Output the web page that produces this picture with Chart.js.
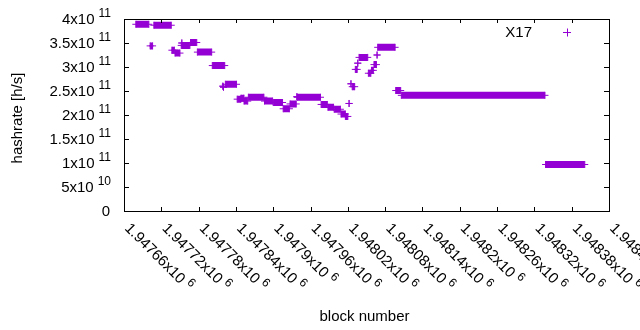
<!DOCTYPE html>
<html>
<head>
<meta charset="utf-8">
<script src="https://cdn.jsdelivr.net/npm/chart.js@4.4.1/dist/chart.umd.min.js"></script>
<style>
  html, body { margin: 0; padding: 0; background: #fff; }
  canvas { display: block; }
</style>
</head>
<body>
<canvas id="hashChart" width="640" height="330"></canvas>
<script>
// hashrate per block, as runs of blocks with the same value
const segStart = [1947679, 1947702, 1947708, 1947737, 1947742, 1947752, 1947753, 1947767, 1947778, 1947802,
  1947819, 1947820, 1947823, 1947842, 1947848, 1947853, 1947860, 1947886, 1947900, 1947916,
  1947927, 1947938, 1947939, 1947977, 1947988, 1947998, 1948009, 1948016, 1948022, 1948025,
  1948027, 1948032, 1948036, 1948038, 1948053, 1948058, 1948062, 1948067, 1948068, 1948097,
  1948106, 1948338];
const segEnd = [1947700, 1947706, 1947736, 1947741, 1947750, 1947766, 1947753, 1947777, 1947801, 1947822,
  1947819, 1947820, 1947841, 1947848, 1947853, 1947859, 1947885, 1947899, 1947915, 1947926,
  1947937, 1947938, 1947976, 1947987, 1947997, 1948008, 1948016, 1948020, 1948022, 1948025,
  1948031, 1948035, 1948036, 1948052, 1948057, 1948061, 1948066, 1948067, 1948096, 1948105,
  1948337, 1948401];
const segHash = [3.89e11, 3.44e11, 3.87e11, 3.35e11, 3.29e11, 3.45e11, 3.50e11, 3.51e11, 3.31e11, 3.03e11,
  2.60e11, 2.58e11, 2.64e11, 2.33e11, 2.35e11, 2.29e11, 2.37e11, 2.29e11, 2.26e11, 2.13e11,
  2.23e11, 2.38e11, 2.37e11, 2.22e11, 2.16e11, 2.12e11, 2.02e11, 1.97e11, 2.24e11, 2.65e11,
  2.59e11, 2.95e11, 3.08e11, 3.20e11, 2.87e11, 2.93e11, 3.05e11, 3.25e11, 3.41e11, 2.51e11,
  2.41e11, 0.969e11];

const yTicks = [0, 5e10, 1e11, 1.5e11, 2e11, 2.5e11, 3e11, 3.5e11, 4e11];
const yTickText = ["0", "5x10", "1x10", "1.5x10", "2x10", "2.5x10", "3x10", "3.5x10", "4x10"];
const yTickExp = ["", "10", "11", "11", "11", "11", "11", "11", "11"];

const xTicks = [1947660, 1947720, 1947780, 1947840, 1947900, 1947960, 1948020,
  1948080, 1948140, 1948200, 1948260, 1948320, 1948380, 1948440];
const xTickText = ["1.94766x10", "1.94772x10", "1.94778x10", "1.94784x10", "1.9479x10", "1.94796x10", "1.94802x10",
  "1.94808x10", "1.94814x10", "1.9482x10", "1.94826x10", "1.94832x10", "1.94838x10", "1.94844x10"];
const xTickExp = "6";

const seriesName = "X17";
const purple = "#9400d3";
const FONT = '"Liberation Sans", Arial, sans-serif';

// each run becomes a short thick line, with a gap after it
const points = [];
segStart.forEach((s, i) => {
  points.push({ x: s, y: segHash[i] });
  points.push({ x: segEnd[i], y: segHash[i] });
  points.push({ x: segEnd[i], y: null });
});

const gnuplotFrame = {
  id: "gnuplotFrame",
  afterDraw(chart) {
    const { ctx, chartArea: a, scales } = chart;
    const xs = scales.x, ys = scales.y;
    ctx.save();
    ctx.strokeStyle = "#000";
    ctx.lineWidth = 1;
    ctx.strokeRect(a.left + 0.5, a.top + 0.5, a.right - a.left, a.bottom - a.top);

    ctx.beginPath();
    yTicks.forEach((v) => {
      const py = Math.round(ys.getPixelForValue(v)) + 0.5;
      ctx.moveTo(a.left, py); ctx.lineTo(a.left + 5, py);
      ctx.moveTo(a.right, py); ctx.lineTo(a.right - 5, py);
    });
    xTicks.forEach((v) => {
      const px = Math.round(xs.getPixelForValue(v)) + 0.5;
      ctx.moveTo(px, a.bottom); ctx.lineTo(px, a.bottom - 4);
      ctx.moveTo(px, a.top); ctx.lineTo(px, a.top + 4);
    });
    ctx.stroke();

    ctx.fillStyle = "#000";
    // y tick labels with superscript exponent
    yTicks.forEach((v, i) => {
      const py = ys.getPixelForValue(v);
      const right = 111;
      ctx.textBaseline = "alphabetic";
      ctx.textAlign = "right";
      if (yTickExp[i]) {
        ctx.font = "12px " + FONT;
        const w = ctx.measureText(yTickExp[i]).width;
        ctx.fillText(yTickExp[i], right, py - 2);
        ctx.font = "15px " + FONT;
        ctx.fillText(yTickText[i], right - w - 4, py + 5);
      } else {
        ctx.font = "15px " + FONT;
        ctx.fillText(yTickText[i], right - 1, py + 5);
      }
    });

    // x tick labels, rotated by -45 like gnuplot
    xTicks.forEach((v, i) => {
      const px = xs.getPixelForValue(v);
      ctx.save();
      ctx.translate(px + 3, a.bottom + 15);
      ctx.rotate(Math.PI / 4);
      ctx.textAlign = "left";
      ctx.textBaseline = "middle";
      ctx.font = "15px " + FONT;
      ctx.fillText(xTickText[i], 0, 0);
      const w = ctx.measureText(xTickText[i]).width;
      ctx.font = "12px " + FONT;
      ctx.fillText(xTickExp, w + 4, -5);
      ctx.restore();
    });

    // axis titles
    ctx.font = "15px " + FONT;
    ctx.textAlign = "center";
    ctx.textBaseline = "alphabetic";
    ctx.fillText("block number", (a.left + a.right) / 2 - 2, 321);
    ctx.save();
    ctx.translate(22, (a.top + a.bottom) / 2 + 3);
    ctx.rotate(-Math.PI / 2);
    ctx.fillText("hashrate [h/s]", 0, 0);
    ctx.restore();

    // key
    ctx.textAlign = "right";
    ctx.fillText(seriesName, 532, 37);
    ctx.strokeStyle = purple;
    ctx.beginPath();
    ctx.moveTo(563, 32.5); ctx.lineTo(571, 32.5);
    ctx.moveTo(567.5, 28.5); ctx.lineTo(567.5, 36.5);
    ctx.stroke();
    ctx.restore();
  }
};

new Chart(document.getElementById("hashChart"), {
  type: "scatter",
  data: {
    datasets: [{
      label: seriesName,
      data: points,
      showLine: true,
      spanGaps: false,
      borderColor: purple,
      borderWidth: 7,
      borderCapStyle: "butt",
      pointStyle: "cross",
      pointRadius: 3.5,
      pointBorderWidth: 1,
      pointBorderColor: purple,
      pointBackgroundColor: purple,
      pointHoverRadius: 3.5
    }]
  },
  options: {
    responsive: false,
    animation: false,
    events: [],
    layout: { padding: { left: 124, top: 19, right: 31, bottom: 119 } },
    scales: {
      x: { type: "linear", min: 1947660, max: 1948440, display: false },
      y: { type: "linear", min: 0, max: 4e11, display: false }
    },
    plugins: {
      legend: { display: false },
      tooltip: { enabled: false }
    }
  },
  plugins: [gnuplotFrame]
});
</script>
</body>
</html>
